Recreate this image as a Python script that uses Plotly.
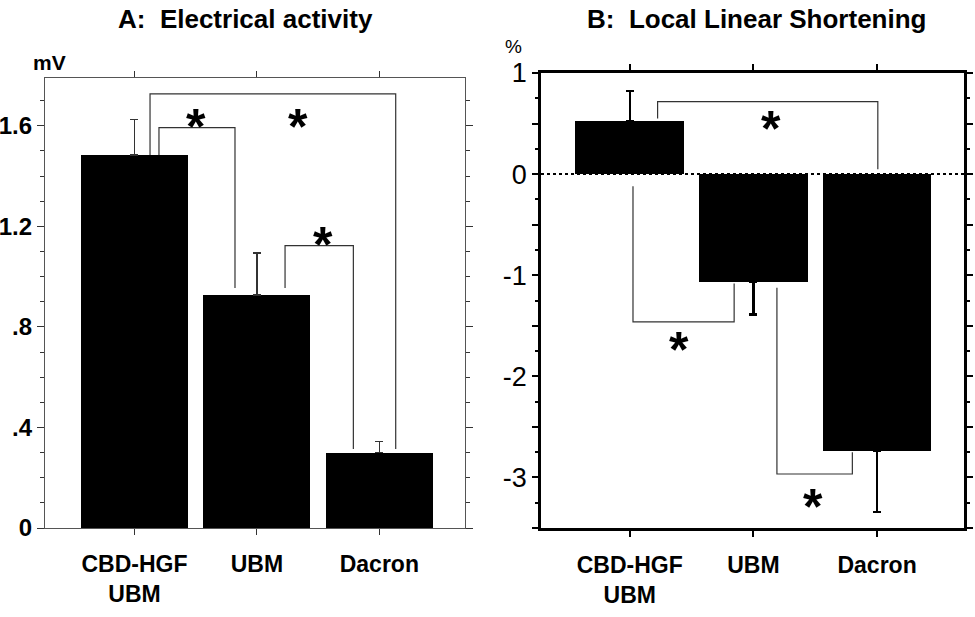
import plotly.graph_objects as go

# ---------------- data ----------------
categories = ["CBD-HGF<br>UBM", "UBM", "Dacron"]

ea_values = [1.484, 0.927, 0.300]      # mV
ea_err = [0.140, 0.167, 0.043]

ls_values = [0.525, -1.065, -2.740]    # %
ls_err = [0.295, 0.325, 0.600]

ea_ticks = [0, 0.4, 0.8, 1.2, 1.6]
ea_ticktext = ["0", ".4", ".8", "1.2", "1.6"]
ls_ticks = [1, 0.5, 0, -0.5, -1, -1.5, -2, -2.5, -3, -3.5]
ls_ticktext = ["1", "", "0", "", "-1", "", "-2", "", "-3", ""]

# significance brackets: (x_left, y_left_end, x_right, y_right_end, y_bar), in data units
ea_brackets = [
    (0.127, 1.484, 2.134, 0.314, 1.727),
    (0.200, 1.484, 0.821, 0.955, 1.593),
    (1.230, 0.955, 1.788, 0.314, 1.123),
]
ea_stars = [(0.502, 1.655), (1.336, 1.655), (1.540, 1.186)]

ls_brackets = [
    (0.225, 0.549, 2.006, 0.047, 0.717),
    (0.026, -0.119, 0.844, -1.082, -1.461),
    (1.190, -1.125, 1.800, -2.752, -2.966),
]
ls_stars = [(1.143, 0.59), (0.400, -1.587), (1.483, -3.14)]

x_idx = list(range(len(categories)))

W, H = 975, 617


def px(x):
    return x / W


def py(y):
    return 1 - y / H


fig = go.Figure()

fig.add_trace(go.Bar(
    x=x_idx, y=ea_values, width=0.875, marker=dict(color="black", line=dict(width=0)),
    error_y=dict(type="data", symmetric=False, array=ea_err, arrayminus=[0, 0, 0],
                 color="#333", thickness=1.3, width=4),
    xaxis="x", yaxis="y", showlegend=False, hoverinfo="skip"))

ls_plus = [e if v > 0 else 0 for v, e in zip(ls_values, ls_err)]
ls_minus = [e if v < 0 else 0 for v, e in zip(ls_values, ls_err)]
fig.add_trace(go.Bar(
    x=x_idx, y=ls_values, width=0.88, marker=dict(color="black", line=dict(width=0)),
    error_y=dict(type="data", symmetric=False, array=ls_plus, arrayminus=ls_minus,
                 color="black", thickness=2.5, width=4),
    xaxis="x2", yaxis="y2", showlegend=False, hoverinfo="skip"))

shapes = []
annotations = []


def add_bracket(b, xr, yr):
    x1, y1, x2, y2, yb = b
    shapes.append(dict(type="path", xref=xr, yref=yr,
                       path=f"M {x1} {y1} L {x1} {yb} L {x2} {yb} L {x2} {y2}",
                       line=dict(color="#333", width=1.2), layer="above"))


for b in ea_brackets:
    add_bracket(b, "x", "y")
for b in ls_brackets:
    add_bracket(b, "x2", "y2")

star_font = dict(family="Liberation Sans, Arial", size=50, color="black")
for sx, sy in ea_stars:
    annotations.append(dict(x=sx, y=sy, xref="x", yref="y", text="<b>*</b>", showarrow=False,
                            font=star_font, yshift=-15, xanchor="center"))
for sx, sy in ls_stars:
    annotations.append(dict(x=sx, y=sy, xref="x2", yref="y2", text="<b>*</b>", showarrow=False,
                            font=star_font, yshift=-15, xanchor="center"))

# zero dotted line in panel B
shapes.append(dict(type="line", xref="x2 domain", yref="y2", x0=0, x1=1, y0=0, y1=0,
                   line=dict(color="black", width=2, dash="dot"), layer="below"))

# titles and unit labels
annotations += [
    dict(text="<b>A:  Electrical activity</b>", x=px(246), y=py(19), xref="paper", yref="paper",
         xanchor="center", yanchor="middle",
         showarrow=False, font=dict(family="Liberation Sans, Arial", size=26, color="black")),
    dict(text="<b>B:  Local Linear Shortening</b>", x=px(756), y=py(19), xref="paper", yref="paper",
         xanchor="center", yanchor="middle",
         showarrow=False, font=dict(family="Liberation Sans, Arial", size=26, color="black")),
    dict(text="<b>mV</b>", x=px(49), y=py(62), xref="paper", yref="paper",
         xanchor="center", yanchor="middle",
         showarrow=False, font=dict(family="Liberation Sans, Arial", size=21, color="black")),
    dict(text="%", x=px(513), y=py(47), xref="paper", yref="paper",
         xanchor="center", yanchor="middle",
         showarrow=False, font=dict(family="Liberation Sans, Arial", size=19, color="black")),
]

font_b = dict(family="Liberation Sans, Arial", size=23, color="black")

fig.update_layout(
    width=W, height=H, margin=dict(l=0, r=0, t=0, b=0),
    plot_bgcolor="white", paper_bgcolor="white", hovermode=False,
    shapes=shapes, annotations=annotations, bargap=0,
    xaxis=dict(domain=[px(45), px(465)], range=[-0.731, 2.70],
               tickvals=x_idx, ticktext=[f"<b>{c}</b>" for c in categories],
               tickfont=font_b, ticks="outside", ticklen=6, tickcolor="#333",
               ticklabelstandoff=9,
               showline=True, linecolor="#555", linewidth=1.2, mirror="ticks",
               showgrid=False, zeroline=False, anchor="y", automargin=False),
    yaxis=dict(domain=[py(528), py(78)], range=[0, 1.79],
               tickvals=ea_ticks, ticktext=[f"<b>{t}</b>" for t in ea_ticktext],
               tickfont=dict(family="Liberation Sans, Arial", size=24, color="black"),
               ticks="outside", ticklen=7, tickcolor="#333",
               minor=dict(dtick=0.1, ticks="outside", ticklen=4, tickcolor="#333"),
               showline=True, linecolor="#555", linewidth=1.2, mirror="ticks",
               showgrid=False, zeroline=False, anchor="x", automargin=False),
    xaxis2=dict(domain=[px(541), px(964)], range=[-0.718, 2.703],
                tickvals=x_idx, ticktext=[f"<b>{c}</b>" for c in categories],
                tickfont=font_b, ticks="outside", ticklen=6, tickwidth=2, tickcolor="black",
                ticklabelstandoff=9,
                showline=True, linecolor="black", linewidth=2.5, mirror="ticks",
                showgrid=False, zeroline=False, anchor="y2", automargin=False),
    yaxis2=dict(domain=[py(528), py(73)], range=[-3.5, 1],
                tickvals=ls_ticks, ticktext=ls_ticktext,
                tickfont=dict(family="Liberation Sans, Arial", size=27, color="black"),
                ticks="outside", ticklen=6, tickwidth=2, tickcolor="black",
                minor=dict(dtick=0.25, ticks="outside", ticklen=3, tickwidth=2, tickcolor="black"),
                showline=True, linecolor="black", linewidth=2.5, mirror="ticks",
                showgrid=False, zeroline=False, anchor="x2", automargin=False),
)

# remove the browser's default 8px body margin so the figure fills the window exactly
fig.write_html("out.html", config={"displayModeBar": False},
               post_script="document.body.style.margin='0px';")
